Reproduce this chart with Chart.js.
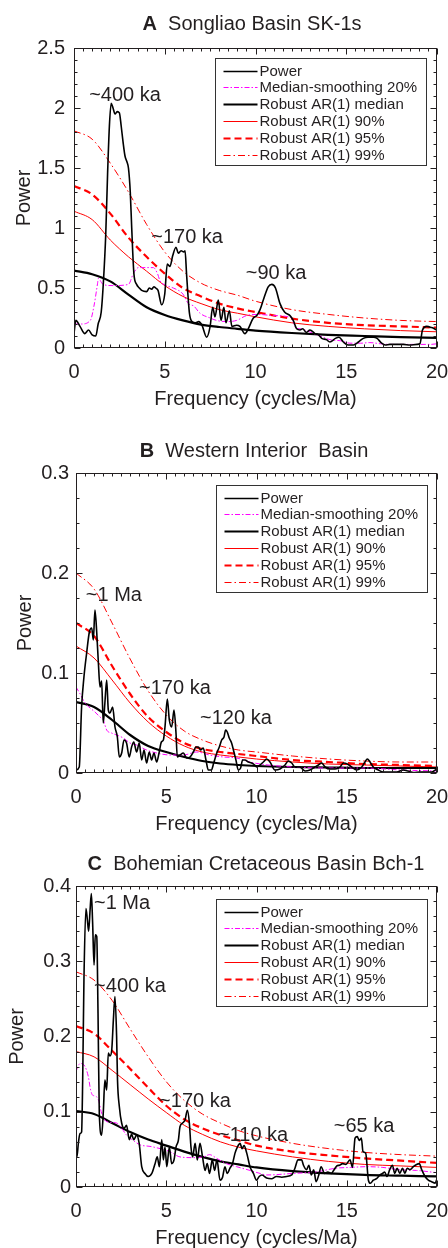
<!DOCTYPE html>
<html><head><meta charset="utf-8">
<script src="https://cdn.jsdelivr.net/npm/chart.js@4.4.1/dist/chart.umd.min.js"></script>
<style>
html,body{margin:0;padding:0;background:#fff;}
#wrap{position:relative;width:448px;height:1248px;overflow:hidden;background:#fff;}
canvas{position:absolute;left:0;}
.ttl{position:absolute;width:448px;text-align:center;font:20px/24px "Liberation Sans",Arial,Helvetica,sans-serif;color:#231f20;white-space:pre;z-index:2;}
.ttl b{font-weight:bold;}
</style></head><body>
<div id="wrap">
<div class="ttl" style="top:11px;left:28px;"><b>A</b>  Songliao Basin SK-1s</div>
<div class="ttl" style="top:438px;left:30px;"><b>B</b>  Western Interior  Basin</div>
<div class="ttl" style="top:851px;left:32px;"><b>C</b>  Bohemian Cretaceous Basin Bch-1</div>
<canvas id="cA" width="448" height="420" style="top:0px"></canvas>
<canvas id="cB" width="448" height="420" style="top:416px"></canvas>
<canvas id="cC" width="448" height="420" style="top:828px"></canvas>
</div>
<script>
// ---------- DATA ----------
const seriesNames = ['Power','Median-smoothing 20%','Robust AR(1) median','Robust AR(1) 90%','Robust AR(1) 95%','Robust AR(1) 99%'];
const xTicks = [0,5,10,15,20];
const yTicksA = [0,0.5,1,1.5,2,2.5];
const yTicksB = [0,0.1,0.2,0.3];
const yTicksC = [0,0.1,0.2,0.3,0.4];
const freqAR = [0,1,2,3,4,5,6,7,8,9,10,12,14,16,18,20];

// Panel A
const powerFreqA = [0,0.1,0.33,0.6,0.8,1.0,1.2,1.33,1.5,1.62,1.75,1.85,1.95,2.05,2.15,2.26,2.38,2.5,2.6,2.7,2.81,2.92,3.0,3.1,3.18,3.3,3.45,3.6,3.73,4.0,4.15,4.28,4.4,4.5,4.63,4.83,5.0,5.14,5.29,5.44,5.62,5.75,5.9,6.05,6.12,6.2,6.36,6.5,6.7,6.87,7.05,7.31,7.5,7.64,7.77,7.95,8.1,8.26,8.37,8.56,8.7,8.96,9.14,9.42,9.6,9.88,10.07,10.25,10.43,10.7,10.9,11.1,11.35,11.6,11.9,12.08,12.27,12.45,12.6,12.8,13.0,13.28,13.47,13.65,13.9,14.1,14.4,14.6,14.84,15.1,15.4,15.67,15.94,16.2,16.5,16.7,16.95,17.15,17.4,17.78,18.15,18.5,18.9,19.06,19.2,19.43,19.7,20.0];
const powerA = [0.12,0.23,0.18,0.12,0.15,0.11,0.10,0.20,0.30,0.55,0.95,1.45,1.85,2.04,2.0,1.95,1.97,1.96,1.85,1.72,1.6,1.55,1.5,1.3,1.0,0.62,0.53,0.5,0.48,0.47,0.5,0.49,0.51,0.5,0.48,0.36,0.45,0.70,0.68,0.77,0.84,0.79,0.81,0.80,0.81,0.62,0.29,0.22,0.21,0.22,0.19,0.09,0.18,0.34,0.26,0.40,0.23,0.34,0.21,0.31,0.18,0.19,0.18,0.12,0.16,0.25,0.27,0.32,0.40,0.51,0.53,0.50,0.37,0.30,0.27,0.23,0.16,0.15,0.16,0.13,0.15,0.12,0.11,0.08,0.07,0.05,0.08,0.09,0.05,0.025,0.025,0.05,0.08,0.09,0.09,0.08,0.04,0.025,0.03,0.03,0.03,0.025,0.03,0.035,0.15,0.18,0.17,0.15];
const smoothFreqA = [0,0.4,0.9,1.1,1.3,1.34,1.6,2.15,3.0,3.27,3.55,4.37,4.6,4.74,5.1,5.47,6.0,6.3,6.6,6.94,7.5,7.85,8.4,8.96,9.5,10.15,11.0,12.0,12.2,12.45,13.4,14.1,14.7,15.2,15.8,16.3,16.9,17.4,18.5,19.6,20];
const smoothA = [0.2,0.2,0.23,0.35,0.54,0.58,0.53,0.52,0.53,0.62,0.67,0.67,0.62,0.56,0.52,0.50,0.45,0.37,0.35,0.29,0.25,0.23,0.22,0.23,0.27,0.28,0.27,0.25,0.17,0.16,0.11,0.07,0.06,0.04,0.04,0.045,0.035,0.03,0.03,0.03,0.035];
const arMedianA = [0.645,0.615,0.555,0.445,0.34,0.275,0.23,0.195,0.175,0.16,0.145,0.125,0.11,0.10,0.09,0.085];
const ar90A = [1.14,1.07,0.90,0.76,0.64,0.52,0.43,0.37,0.32,0.29,0.26,0.21,0.18,0.16,0.145,0.135];
const ar95A = [1.35,1.28,1.12,0.92,0.76,0.62,0.50,0.43,0.37,0.33,0.30,0.245,0.21,0.19,0.18,0.17];
const ar99A = [1.81,1.74,1.54,1.30,1.03,0.80,0.64,0.54,0.48,0.44,0.39,0.32,0.28,0.25,0.23,0.22];
const peakLabelsA = ['~400 ka','~170 ka','~90 ka'];
const peakLabelFreqA = [2.81,6.23,11.13];
const peakLabelPowerA = [2.107,0.917,0.62];

// Panel B
const powerFreqB = [0,0.18,0.31,0.44,0.59,0.74,0.87,0.96,1.05,1.15,1.24,1.33,1.42,1.51,1.6,1.7,1.79,1.88,2.03,2.16,2.29,2.4,2.53,2.66,2.8,2.95,3.08,3.2,3.36,3.5,3.64,3.77,3.91,4.06,4.19,4.32,4.47,4.6,4.73,4.84,4.93,5.06,5.17,5.3,5.43,5.54,5.61,5.76,5.95,6.13,6.32,6.5,6.65,6.78,6.9,7.05,7.2,7.33,7.5,7.63,7.8,7.94,8.07,8.2,8.29,8.38,8.49,8.62,8.75,8.86,8.99,9.12,9.23,9.36,9.55,9.73,9.9,10.0,10.38,10.56,10.75,11.02,11.3,11.58,11.76,11.95,12.13,12.4,12.69,12.96,13.24,13.43,13.61,13.8,14.07,14.35,14.63,14.81,15.03,15.27,15.55,15.83,16.01,16.14,16.29,16.47,16.75,17.03,17.4,17.77,18.13,18.4,18.69,19.06,19.43,19.7,20];
const powerB = [0.003,0.006,0.066,0.096,0.12,0.141,0.145,0.133,0.163,0.14,0.11,0.086,0.092,0.05,0.07,0.093,0.063,0.06,0.066,0.046,0.036,0.016,0.02,0.033,0.03,0.016,0.026,0.031,0.021,0.03,0.013,0.023,0.01,0.021,0.013,0.02,0.011,0.02,0.031,0.033,0.046,0.074,0.053,0.046,0.063,0.04,0.016,0.018,0.02,0.015,0.016,0.021,0.026,0.026,0.023,0.025,0.013,0.003,0.003,0.01,0.02,0.026,0.033,0.036,0.043,0.041,0.035,0.03,0.021,0.013,0.003,0.005,0.013,0.013,0.011,0.01,0.008,0.006,0.011,0.014,0.011,0.003,0.004,0.008,0.012,0.01,0.006,0.006,0.002,0.003,0.006,0.008,0.01,0.006,0.004,0.004,0.006,0.01,0.009,0.006,0.003,0.006,0.011,0.014,0.011,0.006,0.003,0.001,0.001,0.001,0.003,0.002,0.0005,0.001,0.001,0.001,0.004];
const smoothFreqB = [0,0.2,0.5,0.78,1.05,1.33,1.51,1.7,1.97,2.25,2.62,2.99,3.36,3.91,4.47,5.2,5.95,6.69,7.4,8.16,8.9,9.64,10.2,12,14,16,18,20];
const smoothB = [0.086,0.08,0.07,0.065,0.061,0.056,0.053,0.043,0.04,0.038,0.035,0.03,0.028,0.023,0.02,0.018,0.018,0.021,0.018,0.016,0.015,0.011,0.009,0.006,0.005,0.005,0.003,0.002];
const arMedianB = [0.071,0.066,0.053,0.038,0.027,0.021,0.016,0.012,0.0095,0.008,0.007,0.006,0.0055,0.005,0.005,0.005];
const ar90B = [0.127,0.115,0.093,0.070,0.051,0.037,0.027,0.021,0.018,0.016,0.014,0.011,0.009,0.008,0.007,0.006];
const ar95B = [0.15,0.137,0.107,0.079,0.056,0.041,0.03,0.024,0.021,0.019,0.017,0.013,0.011,0.009,0.008,0.007];
const ar99B = [0.2,0.184,0.15,0.114,0.082,0.058,0.042,0.033,0.027,0.023,0.021,0.017,0.014,0.012,0.011,0.011];
const peakLabelsB = ['~1 Ma','~170 ka','~120 ka'];
const peakLabelFreqB = [2.1,5.48,8.86];
const peakLabelPowerB = [0.178,0.085,0.055];

// Panel C
const powerFreqC = [0,0.05,0.13,0.22,0.31,0.37,0.44,0.55,0.63,0.7,0.78,0.85,0.92,1.0,1.07,1.15,1.22,1.29,1.42,1.51,1.6,1.7,1.79,1.88,1.98,2.07,2.16,2.25,2.3,2.4,2.53,2.66,2.8,2.95,3.08,3.2,3.36,3.5,3.64,3.82,4.0,4.2,4.38,4.5,4.62,4.75,4.84,4.93,5.03,5.17,5.3,5.43,5.54,5.67,5.76,5.9,6.04,6.17,6.28,6.37,6.46,6.6,6.72,6.87,7.01,7.15,7.27,7.4,7.55,7.68,7.81,7.98,8.12,8.25,8.38,8.53,8.67,8.81,8.94,9.09,9.2,9.31,9.46,9.64,9.83,10.0,10.15,10.3,10.56,10.84,11.1,11.4,11.67,11.95,12.13,12.3,12.5,12.6,12.77,12.9,13.04,13.17,13.3,13.45,13.58,13.77,13.95,14.14,14.3,14.45,14.6,14.77,14.95,15.18,15.32,15.46,15.58,15.69,15.81,15.9,16.05,16.2,16.31,16.47,16.65,16.84,16.98,17.1,17.23,17.38,17.53,17.66,17.79,17.94,18.09,18.22,18.35,18.5,18.69,18.87,19.02,19.15,19.34,19.52,19.7,19.9,20.0];
const powerC = [0.045,0.04,0.058,0.071,0.073,0.142,0.275,0.37,0.355,0.34,0.368,0.39,0.352,0.295,0.335,0.333,0.231,0.098,0.069,0.098,0.142,0.129,0.178,0.174,0.182,0.222,0.253,0.2,0.142,0.107,0.085,0.078,0.082,0.063,0.07,0.063,0.069,0.058,0.027,0.018,0.014,0.018,0.031,0.04,0.027,0.063,0.036,0.053,0.027,0.053,0.031,0.036,0.053,0.062,0.08,0.085,0.089,0.102,0.085,0.053,0.04,0.058,0.036,0.058,0.04,0.022,0.031,0.018,0.036,0.022,0.036,0.009,0.013,0.027,0.018,0.025,0.031,0.045,0.053,0.058,0.051,0.055,0.045,0.027,0.018,0.009,0.014,0.016,0.012,0.011,0.014,0.013,0.014,0.016,0.025,0.036,0.036,0.029,0.023,0.029,0.016,0.023,0.007,0.016,0.027,0.018,0.02,0.018,0.023,0.028,0.029,0.031,0.03,0.036,0.026,0.065,0.067,0.062,0.065,0.047,0.045,0.009,0.005,0.009,0.011,0.016,0.018,0.02,0.014,0.023,0.029,0.018,0.025,0.018,0.025,0.018,0.025,0.023,0.027,0.03,0.031,0.023,0.014,0.009,0.007,0.005,0.011];
const smoothFreqC = [0,0.13,0.31,0.5,0.68,0.81,0.92,1.05,1.24,1.42,1.6,1.88,2.25,2.53,2.8,3.17,3.55,4.1,4.66,5.2,5.76,6.5,7.05,7.4,7.8,8.34,8.9,9.64,10.2,10.56,12.0,13.3,14.4,15.2,16.1,17.0,17.9,18.87,20];
const smoothC = [0.153,0.162,0.164,0.16,0.147,0.129,0.122,0.121,0.116,0.098,0.089,0.086,0.085,0.078,0.069,0.062,0.056,0.054,0.051,0.047,0.04,0.039,0.04,0.043,0.038,0.031,0.027,0.022,0.018,0.016,0.018,0.02,0.025,0.026,0.027,0.026,0.023,0.022,0.019];
const arMedianC = [0.101,0.097,0.085,0.073,0.063,0.055,0.047,0.040,0.034,0.030,0.026,0.021,0.018,0.016,0.015,0.014];
const ar90C = [0.18,0.173,0.155,0.136,0.117,0.099,0.082,0.07,0.06,0.053,0.048,0.04,0.034,0.03,0.028,0.026];
const ar95C = [0.214,0.204,0.181,0.157,0.132,0.108,0.09,0.078,0.069,0.062,0.055,0.047,0.042,0.038,0.035,0.032];
const ar99C = [0.286,0.275,0.248,0.21,0.173,0.14,0.115,0.097,0.085,0.075,0.068,0.058,0.051,0.046,0.043,0.041];
const peakLabelsC = ['~1 Ma','~400 ka','~170 ka','~110 ka','~65 ka'];
const peakLabelFreqC = [2.55,2.99,6.59,9.81,15.96];
const peakLabelPowerC = [0.377,0.267,0.113,0.069,0.080];

// ---------- RENDERING ----------
const TXT = '#231f20';
const FONT = '"Liberation Sans", Arial, Helvetica, sans-serif';
Chart.defaults.font.family = FONT;
Chart.defaults.color = TXT;

const pts = (xs, ys) => xs.map((x, i) => ({x: x, y: ys[i]}));

const panelPlugin = {
  id: 'panelDeco',
  afterDatasetsDraw(chart, args, o) {
    const ctx = chart.ctx, ca = chart.chartArea;
    const xs = chart.scales.x, ys = chart.scales.y;
    ctx.save();
    // peak annotations
    ctx.fillStyle = TXT;
    ctx.font = '20px ' + FONT;
    ctx.textAlign = 'center';
    ctx.textBaseline = 'middle';
    o.labels.forEach((t, i) => {
      ctx.fillText(t, xs.getPixelForValue(o.lf[i]), ys.getPixelForValue(o.lp[i]));
    });
    // frame
    const L = Math.round(ca.left) + 0.5, R = Math.round(ca.right) - 0.5;
    const T = Math.round(ca.top) + 0.5, B = Math.round(ca.bottom) - 0.5;
    ctx.strokeStyle = '#231f20';
    ctx.lineWidth = 1;
    ctx.setLineDash([]);
    ctx.strokeRect(L, T, R - L, B - T);
    ctx.beginPath();
    const nX = Math.round((xs.max - xs.min) / o.minorX);
    for (let k = 0; k <= nX; k++) {
      const v = xs.min + k * o.minorX;
      const major = xTicks.some(t => Math.abs(t - v) < 1e-6);
      const len = major ? 6 : 3;
      const px = Math.round(xs.getPixelForValue(v)) + 0.5;
      ctx.moveTo(px, B); ctx.lineTo(px, B - len);
      ctx.moveTo(px, T); ctx.lineTo(px, T + len);
    }
    const nY = Math.round((ys.max - ys.min) / o.minorY);
    for (let k = 0; k <= nY; k++) {
      const v = ys.min + k * o.minorY;
      const major = o.yt.some(t => Math.abs(t - v) < o.minorY * 0.01);
      const len = major ? 6 : 3;
      const py = Math.round(ys.getPixelForValue(v)) + 0.5;
      ctx.moveTo(L, py); ctx.lineTo(L + len, py);
      ctx.moveTo(R, py); ctx.lineTo(R - len, py);
    }
    ctx.stroke();
    // legend box
    const lw = 211, lh = 107;
    const bx = Math.round(ca.right - o.legRight - lw) + 0.5;
    const by = Math.round(ca.top + o.legTop) + 0.5;
    ctx.fillStyle = '#fff';
    ctx.fillRect(bx, by, lw, lh);
    ctx.strokeStyle = '#333';
    ctx.strokeRect(bx, by, lw, lh);
    ctx.font = '15px ' + FONT;
    ctx.textAlign = 'left';
    chart.data.datasets.forEach((ds, i) => {
      const cy = Math.round(by + 12 + i * 16.8);
      ctx.strokeStyle = ds.borderColor;
      ctx.lineWidth = ds.borderWidth;
      ctx.setLineDash(ds.borderDash || []);
      ctx.beginPath();
      ctx.moveTo(bx + 8, cy + 0.5);
      ctx.lineTo(bx + 42, cy + 0.5);
      ctx.stroke();
      ctx.setLineDash([]);
      ctx.fillStyle = TXT;
      ctx.fillText(ds.label, bx + 44, cy + 1);
    });
    ctx.restore();
  }
};

function makePanel(id, canvasTop, geom, d) {
  const H = 420;
  const xAxisH = 61;
  const datasets = [
    {label: seriesNames[0], data: pts(d.pf, d.p), borderColor: '#000000', borderWidth: 1.6, borderDash: []},
    {label: seriesNames[1], data: pts(d.sf, d.s), borderColor: '#ff00ff', borderWidth: 1, borderDash: [5, 2, 1.5, 2]},
    {label: seriesNames[2], data: pts(freqAR, d.med), borderColor: '#000000', borderWidth: 2.2, borderDash: []},
    {label: seriesNames[3], data: pts(freqAR, d.a90), borderColor: '#ff0000', borderWidth: 1, borderDash: []},
    {label: seriesNames[4], data: pts(freqAR, d.a95), borderColor: '#ff0000', borderWidth: 2.2, borderDash: [7, 4]},
    {label: seriesNames[5], data: pts(freqAR, d.a99), borderColor: '#ff0000', borderWidth: 1, borderDash: [7, 3, 1.5, 3]}
  ].map(ds => Object.assign(ds, {pointRadius: 0, fill: false, cubicInterpolationMode: 'monotone'}));
  new Chart(document.getElementById(id), {
    type: 'line',
    data: {datasets},
    options: {
      responsive: false, animation: false, events: [],
      layout: {padding: {top: geom.top - canvasTop, bottom: canvasTop + H - geom.bottom - xAxisH, left: 0, right: 448 - geom.right}},
      plugins: {
        legend: {display: false}, title: {display: false}, tooltip: {enabled: false},
        panelDeco: {labels: d.labels, lf: d.lf, lp: d.lp, minorX: 0.5, minorY: d.minorY, yt: d.yt, legTop: d.legTop, legRight: d.legRight}
      },
      scales: {
        x: {
          type: 'linear', min: 0, max: 20,
          afterBuildTicks: s => { s.ticks = xTicks.map(v => ({value: v})); },
          afterFit: s => { s.height = xAxisH; s.paddingLeft = 0; s.paddingRight = 0; },
          grid: {display: false, drawTicks: false},
          border: {display: false},
          ticks: {padding: 12, color: TXT, font: {size: 20}, maxRotation: 0, autoSkip: false, callback: v => String(v)},
          title: {display: true, text: 'Frequency (cycles/Ma)', color: TXT, font: {size: 20, lineHeight: 1}, padding: 0}
        },
        y: {
          type: 'linear', min: 0, max: d.yt[d.yt.length - 1],
          afterBuildTicks: s => { s.ticks = d.yt.map(v => ({value: v})); },
          afterFit: s => { s.width = geom.left; s.paddingTop = 0; s.paddingBottom = 0; },
          grid: {display: false, drawTicks: false},
          border: {display: false},
          ticks: {padding: d.tickPad, color: TXT, font: {size: 20}, autoSkip: false, callback: v => String(v)},
          title: {display: true, text: 'Power', color: TXT, font: {size: 20, lineHeight: 1.2}, padding: {top: d.titlePad, bottom: 0}}
        }
      }
    },
    plugins: [panelPlugin]
  });
}

makePanel('cA', 0, {top: 48, bottom: 348, left: 74, right: 437},
  {pf: powerFreqA, p: powerA, sf: smoothFreqA, s: smoothA, med: arMedianA, a90: ar90A, a95: ar95A, a99: ar99A,
   yt: yTicksA, minorY: 0.1, labels: peakLabelsA, lf: peakLabelFreqA, lp: peakLabelPowerA, tickPad: 9, titlePad: 12, legTop: 10, legRight: 11});
makePanel('cB', 416, {top: 473, bottom: 773, left: 76, right: 437},
  {pf: powerFreqB, p: powerB, sf: smoothFreqB, s: smoothB, med: arMedianB, a90: ar90B, a95: ar95B, a99: ar99B,
   yt: yTicksB, minorY: 0.025, labels: peakLabelsB, lf: peakLabelFreqB, lp: peakLabelPowerB, tickPad: 7, titlePad: 13, legTop: 12, legRight: 10});
makePanel('cC', 828, {top: 886, bottom: 1187, left: 76, right: 437},
  {pf: powerFreqC, p: powerC, sf: smoothFreqC, s: smoothC, med: arMedianC, a90: ar90C, a95: ar95C, a99: ar99C,
   yt: yTicksC, minorY: 0.02, labels: peakLabelsC, lf: peakLabelFreqC, lp: peakLabelPowerC, tickPad: 5, titlePad: 5, legTop: 13, legRight: 10});
</script>
</body></html>
